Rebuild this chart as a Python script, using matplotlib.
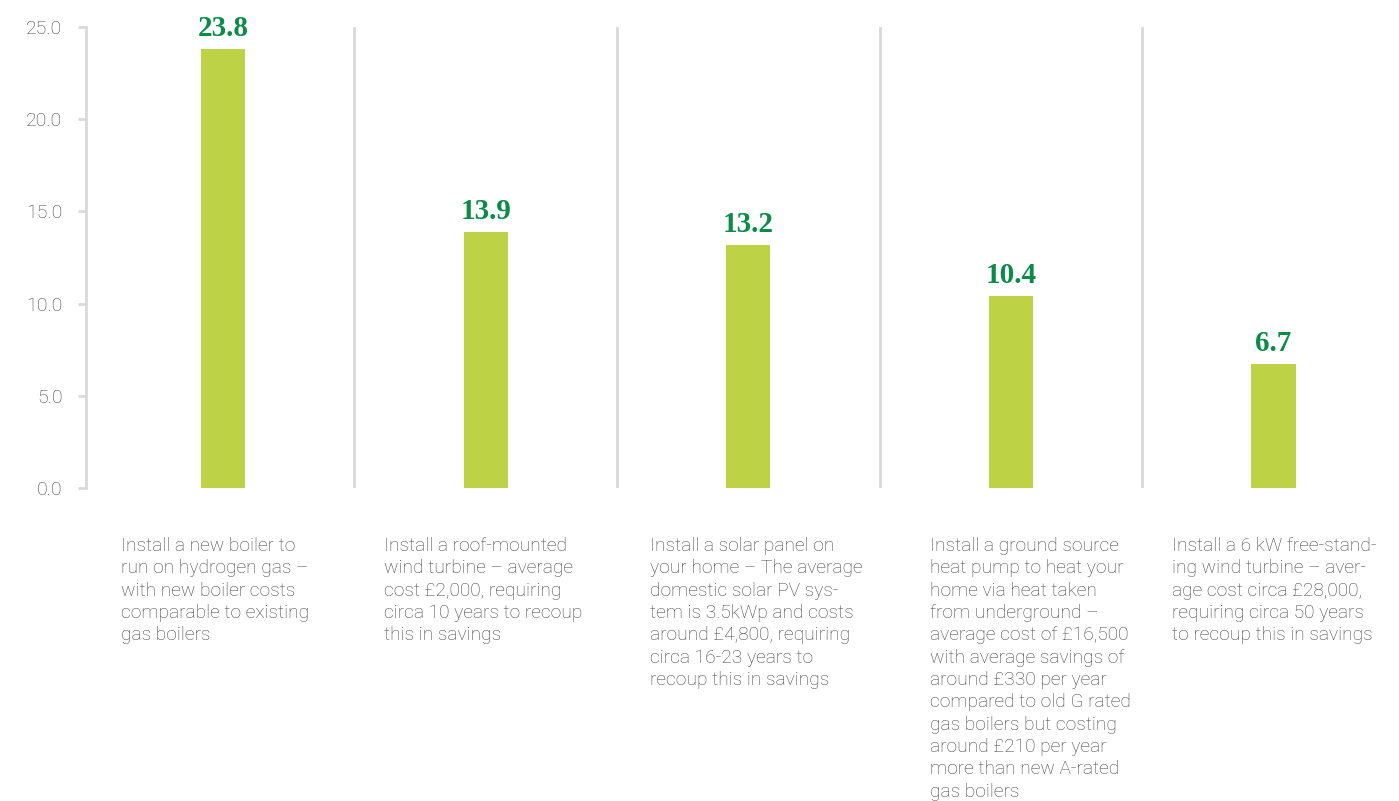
import matplotlib
matplotlib.use("Agg")
import matplotlib.pyplot as plt

# Data
categories = [
    "Install a new boiler to\nrun on hydrogen gas \u2013\nwith new boiler costs\ncomparable to existing\ngas boilers",
    "Install a roof-mounted\nwind turbine \u2013 average\ncost \u00a32,000, requiring\ncirca 10 years to recoup\nthis in savings",
    "Install a solar panel on\nyour home \u2013 The average\ndomestic solar PV sys-\ntem is 3.5kWp and costs\naround \u00a34,800, requiring\ncirca 16-23 years to\nrecoup this in savings",
    "Install a ground source\nheat pump to heat your\nhome via heat taken\nfrom underground \u2013\naverage cost of \u00a316,500\nwith average savings of\naround \u00a3330 per year\ncompared to old G rated\ngas boilers but costing\naround \u00a3210 per year\nmore than new A-rated\ngas boilers",
    "Install a 6 kW free-stand-\ning wind turbine \u2013 aver-\nage cost circa \u00a328,000,\nrequiring circa 50 years\nto recoup this in savings",
]
values = [23.8, 13.9, 13.2, 10.4, 6.7]
yticks = [0.0, 5.0, 10.0, 15.0, 20.0, 25.0]

# Layout / style
label_offsets = [-0.388, -0.388, -0.373, -0.309, -0.385]
bar_color = "#bdd245"
value_color = "#0b8a48"
grid_color = "#d9d9d9"
text_color = "#444444"

W, H = 1399, 801
fig = plt.figure(figsize=(W / 100, H / 100), dpi=100)
ax = fig.add_axes([86 / W, 1 - 488 / H, 1 - 86 / W, (488 - 27) / H])

x = list(range(len(values)))
ax.bar(x, values, width=0.168, color=bar_color, zorder=2)

ax.set_xlim(-0.522, 4.478)
ax.set_ylim(0, 25)

for s in ["top", "right", "bottom"]:
    ax.spines[s].set_visible(False)
ax.spines["left"].set_color(grid_color)
ax.spines["left"].set_linewidth(2)

ax.set_xticks([])
ax.set_yticks(yticks)
ax.set_yticklabels([f"{v:.1f}" for v in yticks])
ax.tick_params(axis="y", length=6, width=2, color=grid_color, pad=11,
               labelsize=14, labelcolor=text_color)
for lab in ax.get_yticklabels():
    lab.set_fontfamily("Roboto")
    lab.set_fontweight("light")

# vertical separators between categories
for i in range(len(values) - 1):
    ax.axvline(i + 0.5, ymin=0, ymax=1, color=grid_color, lw=2, zorder=1)

# value labels
for xi, v in zip(x, values):
    ax.annotate(f"{v:.1f}", (xi, v), xytext=(0, 13), textcoords="offset pixels",
                ha="center", va="baseline", color=value_color,
                fontsize=21, fontweight="bold", family="Liberation Serif")

# category descriptions
for xi, txt, off in zip(x, categories, label_offsets):
    ax.annotate(txt, (xi + off, 0), xytext=(0, -49), textcoords="offset pixels",
                ha="left", va="top", color=text_color, fontsize=13.8,
                family="Roboto", fontweight="light", linespacing=1.31,
                annotation_clip=False)

fig.savefig("out.png", dpi=100, facecolor="white")
